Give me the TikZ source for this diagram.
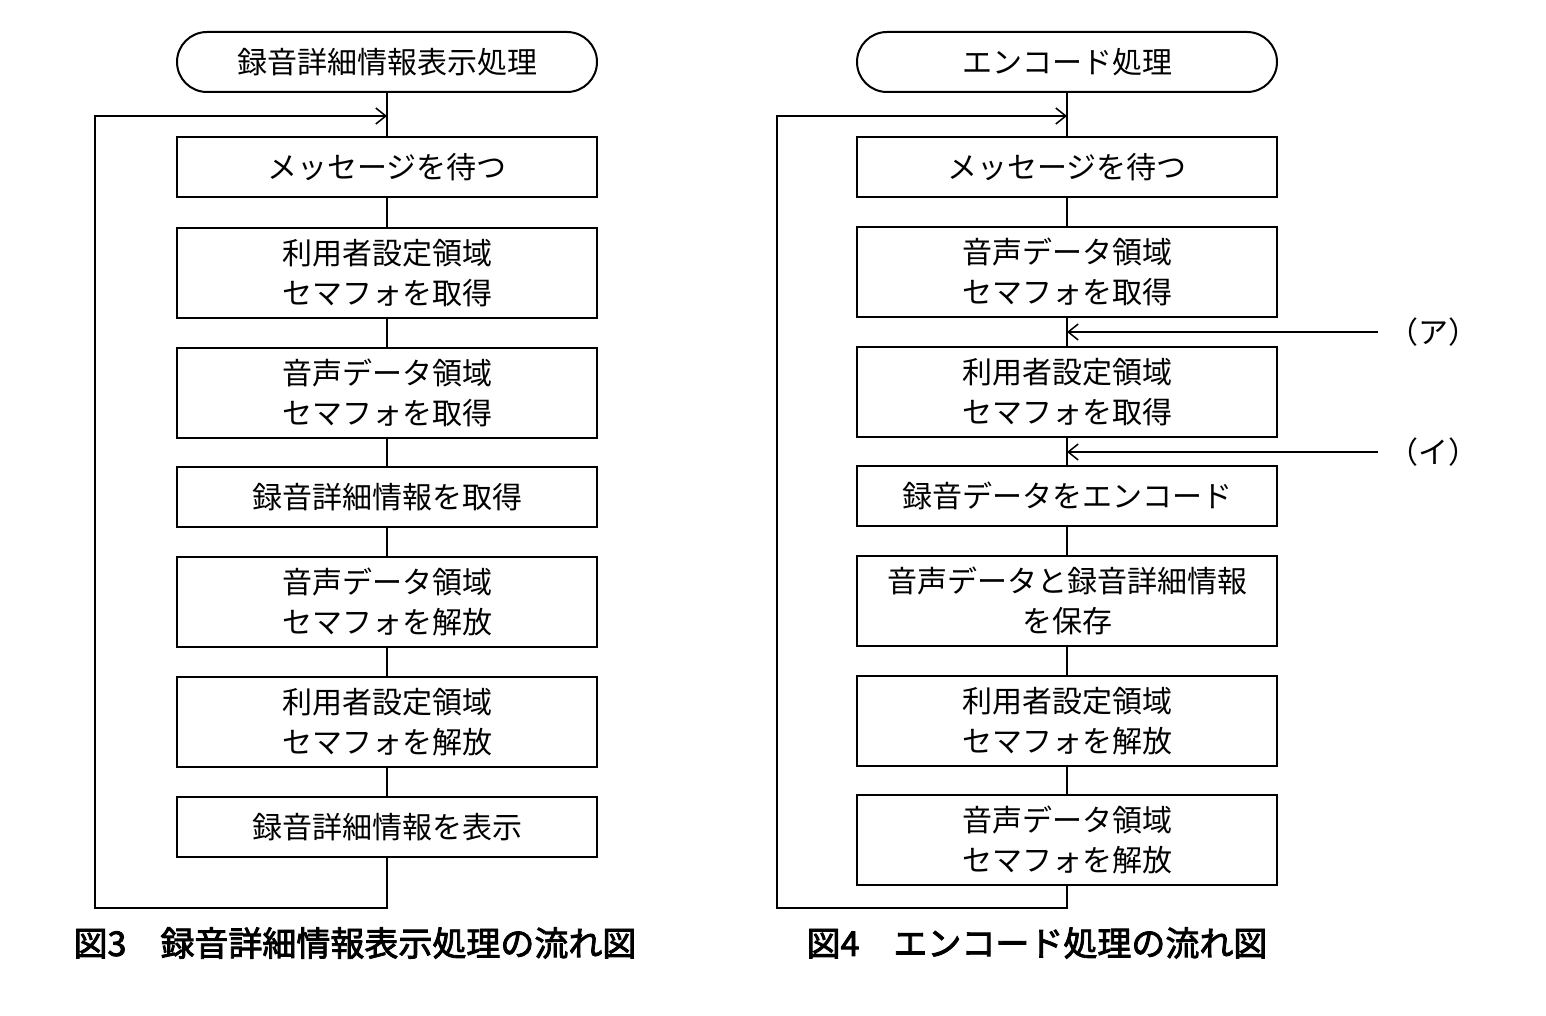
\documentclass[tikz,border=0pt]{standalone}
\usepackage{fontspec}
\setmainfont{Noto Sans CJK JP}
\newfontfamily\capfont{Noto Sans CJK JP}[FakeBold=2.5]
\usetikzlibrary{arrows.meta}
\tikzset{
  bx/.style={draw,line width=2pt,minimum width=420pt,inner sep=0pt,align=center,font=\fontsize{30}{40}\selectfont},
  one/.style={bx,minimum height=60pt},
  two/.style={bx,minimum height=90pt},
  term/.style={bx,rounded corners=30pt,minimum height=60pt},
  ln/.style={line width=2pt},
  ar/.style={ln,-{Straight Barb[length=10pt,width=16pt,line width=1.5pt]}},
  captxt/.style={font=\capfont\fontsize{34}{40}\selectfont,anchor=west}
}
\begin{document}
\begin{tikzpicture}[x=1pt,y=-1pt]
\useasboundingbox (0,0) rectangle (1546,1016);
% left
\node[term] (la) at (387,62) {録音詳細情報表示処理};
\node[one] (l1) at (387,167) {メッセージを待つ};
\node[two] (l2) at (387,273) {利用者設定領域\\セマフォを取得};
\node[two] (l3) at (387,393) {音声データ領域\\セマフォを取得};
\node[one] (l4) at (387,497) {録音詳細情報を取得};
\node[two] (l5) at (387,602) {音声データ領域\\セマフォを解放};
\node[two] (l6) at (387,722) {利用者設定領域\\セマフォを解放};
\node[one] (l7) at (387,827) {録音詳細情報を表示};
\coordinate (lj) at (387,116);
\draw[ln] (la) -- (l1) (l1)--(l2) (l2)--(l3) (l3)--(l4) (l4)--(l5) (l5)--(l6) (l6)--(l7);
\draw[ar] (l7.south) -- (387,908) -- (95,908) -- (95,116) -- (lj);
\node[captxt] (lc) at (70,943) {図3\hspace{1em}録音詳細情報表示処理の流れ図};
% right
\node[term] (ra) at (1067,62) {エンコード処理};
\node[one] (r1) at (1067,167) {メッセージを待つ};
\node[two] (r2) at (1067,272) {音声データ領域\\セマフォを取得};
\node[two] (r3) at (1067,392) {利用者設定領域\\セマフォを取得};
\node[one] (r4) at (1067,496) {録音データをエンコード};
\node[two] (r5) at (1067,601) {音声データと録音詳細情報\\を保存};
\node[two] (r6) at (1067,721) {利用者設定領域\\セマフォを解放};
\node[two] (r7) at (1067,840) {音声データ領域\\セマフォを解放};
\coordinate (rj) at (1067,116);
\coordinate (ja) at (1067,332);
\coordinate (ji) at (1067,452);
\draw[ln] (ra) -- (r1) (r1)--(r2) (r2)--(r3) (r3)--(r4) (r4)--(r5) (r5)--(r6) (r6)--(r7);
\draw[ar] (r7.south) -- (1067,908) -- (777,908) -- (777,116) -- (rj);
\node[font=\fontsize{30}{36}\selectfont,anchor=west] (ta) at (1385,332) {（ア）};
\node[font=\fontsize{30}{36}\selectfont,anchor=west] (ti) at (1385,452) {（イ）};
\draw[ar] (1378,332) -- (ja);
\draw[ar] (1378,452) -- (ji);
\node[captxt] (rc) at (803,943) {図4\hspace{1em}エンコード処理の流れ図};
\end{tikzpicture}
\end{document}
